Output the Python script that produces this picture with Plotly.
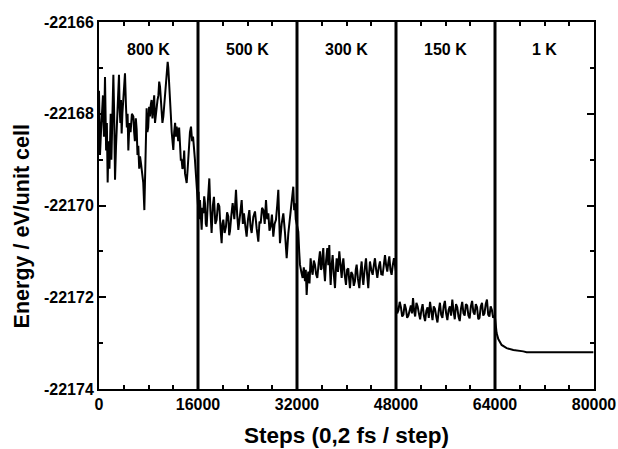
import plotly.graph_objects as go

# ---- data ----
steps_800 = [0, 160, 320, 480, 640, 800, 970, 1060, 1150, 1270, 1400, 1500, 1600, 1690, 1780, 1890,
             2000, 2160, 2320, 2450, 2590, 2750, 2900, 3060, 3230, 3340, 3450, 3550, 3660, 3780,
             3900, 4050, 4200, 4350, 4500, 4620, 4740, 4920, 5100, 5320, 5550, 5680, 5800, 5950,
             6090, 6220, 6350, 6500, 6630, 6800, 7000, 7150, 7330, 7420, 7500, 7600, 7700, 7820,
             7950, 8100, 8240, 8370, 8500, 8640, 8780, 8920, 9050, 9190, 9320, 9460, 9600, 9730,
             9860, 9980, 10100, 10250, 10400, 10550, 10700, 10900, 11100, 11200, 11300, 11380,
             11470, 11600, 11750, 11880, 12010, 12150, 12300, 12430, 12550, 12680, 12800, 12950,
             13090, 13220, 13350, 13490, 13630, 13770, 13900, 14040, 14170, 14330, 14500, 14700,
             14870, 15050, 15200, 15350, 15510, 15600, 15700, 15790, 15890, 16000]
energy_800 = [-22167.50, -22168.90, -22168.40, -22167.90, -22167.60, -22168.50, -22167.20, -22168.00,
              -22168.80, -22168.20, -22169.50, -22168.90, -22168.60, -22169.20, -22168.50, -22168.00,
              -22169.00, -22168.20, -22167.15, -22168.00, -22169.44, -22168.70, -22168.30, -22167.70,
              -22167.15, -22167.90, -22168.20, -22167.70, -22168.43, -22168.00, -22167.80, -22167.40,
              -22167.12, -22167.80, -22168.30, -22168.00, -22168.80, -22168.20, -22168.40, -22168.00,
              -22168.06, -22168.40, -22168.60, -22168.10, -22168.35, -22168.90, -22168.70, -22169.20,
              -22168.93, -22169.10, -22169.30, -22169.50, -22170.10, -22169.40, -22169.00, -22168.20,
              -22167.88, -22168.40, -22168.30, -22167.85, -22168.06, -22167.80, -22167.70, -22168.10,
              -22167.88, -22167.60, -22168.20, -22168.00, -22167.95, -22167.70, -22167.60, -22167.30,
              -22167.41, -22167.70, -22167.90, -22168.20, -22168.06, -22167.80, -22167.50, -22167.10,
              -22166.87, -22167.00, -22167.20, -22167.50, -22167.70, -22168.00, -22168.40, -22168.60,
              -22168.79, -22168.40, -22168.20, -22168.50, -22168.28, -22168.40, -22168.60, -22168.30,
              -22168.64, -22169.00, -22169.00, -22169.20, -22169.15, -22168.80, -22169.30, -22169.40,
              -22169.51, -22169.20, -22168.70, -22168.40, -22168.28, -22168.60, -22168.50, -22168.70,
              -22169.01, -22169.20, -22169.40, -22169.60, -22169.81, -22170.00]

steps_500 = [16100, 16210, 16320, 16450, 16590, 16720, 16860, 17000, 17130, 17260, 17400, 17600,
             17830, 18000, 18200, 18400, 18580, 18800, 19010, 19230, 19450, 19640, 19820, 19950,
             20090, 20300, 20520, 20700, 20900, 21040, 21170, 21400, 21600, 21870, 22140, 22330,
             22520, 22800, 23060, 23250, 23430, 23650, 23860, 24080, 24300, 24480, 24670, 24940,
             25210, 25480, 25750, 25940, 26130, 26350, 26560, 26780, 26990, 27180, 27370, 27550,
             27740, 27950, 28170, 28380, 28600, 28800, 28980, 29120, 29250, 29520, 29790, 30060,
             30330, 30600, 30870, 31130, 31400, 31540, 31670, 31800, 31940]
energy_500 = [-22169.70, -22170.30, -22169.88, -22170.20, -22170.53, -22170.05, -22170.17, -22169.80,
              -22169.95, -22170.40, -22170.46, -22169.90, -22169.41, -22170.10, -22170.60, -22170.00,
              -22169.81, -22170.40, -22170.31, -22169.95, -22170.02, -22170.50, -22170.82, -22170.40,
              -22170.31, -22170.60, -22170.46, -22170.15, -22170.24, -22170.65, -22170.56, -22170.20,
              -22169.95, -22170.30, -22169.66, -22170.20, -22170.53, -22170.20, -22169.88, -22170.40,
              -22170.17, -22170.45, -22170.68, -22170.30, -22170.10, -22170.45, -22170.60, -22170.25,
              -22170.13, -22170.50, -22170.79, -22170.35, -22170.39, -22170.05, -22170.10, -22170.40,
              -22169.88, -22170.30, -22170.17, -22170.55, -22170.46, -22170.20, -22170.68, -22170.40,
              -22170.31, -22170.00, -22169.66, -22170.30, -22170.82, -22170.40, -22170.17, -22170.60,
              -22171.15, -22170.60, -22170.24, -22170.00, -22169.59, -22170.10, -22169.95, -22170.30,
              -22170.40]

steps_300 = [32210, 32350, 32480, 32700, 32910, 33100, 33290, 33420, 33560, 33700, 33830, 34020,
             34200, 34370, 34530, 34720, 34900, 35090, 35280, 35500, 35710, 35850, 35980, 36110,
             36250, 36380, 36520, 36700, 36900, 37060, 37220, 37330, 37440, 37600, 37760, 37950,
             38140, 38280, 38410, 38620, 38840, 39030, 39220, 39350, 39490, 39700, 39920, 40100,
             40290, 40420, 40560, 40770, 40990, 41180, 41370, 41500, 41640, 41850, 42070, 42260,
             42450, 42580, 42720, 42930, 43150, 43330, 43520, 43650, 43790, 44000, 44230, 44420,
             44600, 44790, 44980, 45200, 45410, 45620, 45840, 46030, 46220, 46400, 46590, 46750,
             46920, 47100, 47290, 47480, 47670, 47830, 47990]
energy_300 = [-22170.57, -22171.00, -22171.29, -22171.45, -22171.58, -22171.35, -22171.65, -22171.40,
              -22171.95, -22171.60, -22171.44, -22171.70, -22171.15, -22171.40, -22171.51, -22171.20,
              -22171.29, -22171.50, -22171.58, -22171.25, -22171.00, -22171.40, -22171.37, -22171.10,
              -22170.93, -22171.40, -22171.65, -22171.20, -22170.93, -22171.30, -22170.86, -22171.40,
              -22171.73, -22171.30, -22171.08, -22171.50, -22171.80, -22171.40, -22171.15, -22171.45,
              -22171.00, -22171.30, -22171.58, -22171.30, -22171.15, -22171.50, -22171.73, -22171.40,
              -22171.37, -22171.60, -22171.80, -22171.45, -22171.51, -22171.75, -22171.65, -22171.40,
              -22171.29, -22171.60, -22171.80, -22171.45, -22171.22, -22171.55, -22171.73, -22171.40,
              -22171.15, -22171.50, -22171.80, -22171.50, -22171.22, -22171.40, -22171.51, -22171.30,
              -22171.15, -22171.40, -22171.58, -22171.35, -22171.22, -22171.50, -22171.51, -22171.30,
              -22171.08, -22171.30, -22171.44, -22171.25, -22171.11, -22171.40, -22171.51, -22171.30,
              -22171.15, -22171.30, -22171.44]

steps_150 = [48050, 48200, 48400, 48600, 48800, 49000, 49200, 49400, 49600, 49800, 50000, 50200,
             50400, 50580, 50750, 50930, 51100, 51300, 51500, 51700, 51900, 52100, 52300, 52500,
             52700, 52900, 53100, 53300, 53500, 53700, 53900, 54100, 54300, 54500, 54700, 54900,
             55100, 55300, 55500, 55700, 55900, 56100, 56300, 56500, 56700, 56900, 57100, 57300,
             57500, 57700, 57900, 58100, 58300, 58500, 58700, 58900, 59100, 59300, 59500, 59700,
             59900, 60100, 60300, 60500, 60700, 60900, 61100, 61300, 61500, 61700, 61900, 62100,
             62300, 62500, 62700, 62900, 63100, 63300, 63500, 63700, 63900]
energy_150 = [-22172.15, -22172.35, -22172.28, -22172.10, -22172.22, -22172.42, -22172.38, -22172.15,
              -22172.25, -22172.45, -22172.40, -22172.25, -22172.18, -22172.35, -22172.02, -22172.30,
              -22172.42, -22172.12, -22172.20, -22172.35, -22172.48, -22172.28, -22172.15, -22172.40,
              -22172.52, -22172.30, -22172.22, -22172.45, -22172.10, -22172.30, -22172.50, -22172.20,
              -22172.25, -22172.42, -22172.55, -22172.30, -22172.12, -22172.38, -22172.45, -22172.20,
              -22172.08, -22172.35, -22172.50, -22172.28, -22172.20, -22172.40, -22172.05, -22172.30,
              -22172.48, -22172.15, -22172.22, -22172.42, -22172.52, -22172.25, -22172.10, -22172.35,
              -22172.40, -22172.15, -22172.18, -22172.40, -22172.46, -22172.20, -22172.08, -22172.32,
              -22172.38, -22172.15, -22172.22, -22172.48, -22172.45, -22172.20, -22172.12, -22172.40,
              -22172.35, -22172.15, -22172.05, -22172.38, -22172.42, -22172.20, -22172.28, -22172.45,
              -22172.40]

steps_1 = [64000, 64260, 64530, 65070, 65880, 66960, 68570, 69110, 72000, 76000, 79900]
energy_1 = [-22172.45, -22172.78, -22172.91, -22173.04, -22173.11, -22173.15, -22173.18,
            -22173.20, -22173.20, -22173.20, -22173.20]

boundaries = [16000, 32000, 48000, 64000]
segment_labels = ["800 K", "500 K", "300 K", "150 K", "1 K"]
segment_centers = [8000, 24000, 40000, 56000, 72000]

x_tick_vals = [0, 16000, 32000, 48000, 64000, 80000]
y_tick_vals = [-22174, -22172, -22170, -22168, -22166]

# ---- build figure ----
steps = steps_800 + steps_500 + steps_300 + steps_150 + steps_1
energy = energy_800 + energy_500 + energy_300 + energy_150 + energy_1

FONT = "Liberation Sans, Arial, sans-serif"

fig = go.Figure()
fig.add_trace(go.Scatter(x=steps, y=energy, mode="lines",
                         line=dict(color="black", width=2), showlegend=False))

for b in boundaries:
    fig.add_shape(type="line", x0=b, x1=b, xref="x", y0=0, y1=1, yref="paper",
                  line=dict(color="black", width=3))

for lab, cx in zip(segment_labels, segment_centers):
    fig.add_annotation(x=cx, xref="x", y=0.926, yref="paper", text=lab, showarrow=False,
                       font=dict(family=FONT, size=16, color="black", weight="bold"),
                       xanchor="center", yanchor="middle")

fig.add_annotation(x=0.5, xref="paper", y=-0.127, yref="paper",
                   text="Steps (0,2 fs / step)", showarrow=False,
                   font=dict(family=FONT, size=22.5, color="black", weight="bold"),
                   xanchor="center", yanchor="middle")
fig.add_annotation(x=-0.1556, xref="paper", y=0.443, yref="paper",
                   text="Energy / eV/unit cell", showarrow=False, textangle=-90,
                   font=dict(family=FONT, size=21.5, color="black", weight="bold"),
                   xanchor="center", yanchor="middle")

axis_common = dict(showline=True, linecolor="black", linewidth=2, mirror="allticks",
                   ticks="inside", tickcolor="black", tickwidth=1.5, ticklen=7,
                   showgrid=False, zeroline=False, automargin=False,
                   tickfont=dict(family=FONT, size=16, color="black", weight="bold"))

fig.update_xaxes(range=[0, 80000], tickvals=x_tick_vals,
                 ticktext=[str(v) for v in x_tick_vals],
                 minor=dict(ticks="inside", dtick=4000, tick0=0, ticklen=4,
                            tickwidth=1.5, tickcolor="black", showgrid=False),
                 **axis_common)
fig.update_yaxes(range=[-22174, -22166], tickvals=y_tick_vals,
                 ticktext=[str(v) for v in y_tick_vals],
                 minor=dict(ticks="inside", dtick=1, tick0=-22174, ticklen=4,
                            tickwidth=1.5, tickcolor="black", showgrid=False),
                 **axis_common)

fig.update_layout(width=618, height=449, autosize=False,
                  plot_bgcolor="white", paper_bgcolor="white",
                  margin=dict(l=99, r=24, t=22, b=60, autoexpand=False), showlegend=False)

fig.write_html("out.html",
               config={"displayModeBar": False, "responsive": False},
               post_script="document.body.style.margin='0';document.body.style.padding='0';"
                           "document.body.style.overflow='hidden';")
